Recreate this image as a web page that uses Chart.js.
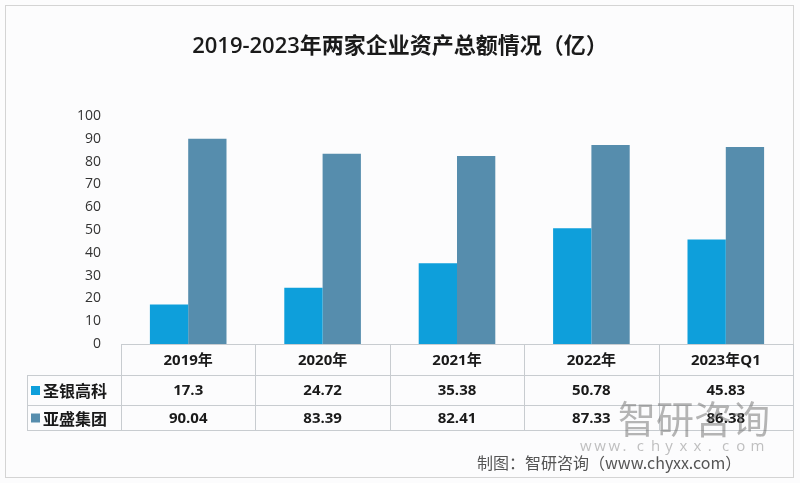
<!DOCTYPE html>
<html>
<head>
<meta charset="utf-8">
<script src="https://cdn.jsdelivr.net/npm/chart.js@4"></script>
<style>
  html, body { margin: 0; padding: 0; background: #ffffff; }
  #wrap { width: 800px; height: 483px; }
</style>
</head>
<body>
<div id="wrap"><canvas id="chart" width="800" height="483"></canvas></div>
<script>
// ===== Dados =====
const anos = ['2019年', '2020年', '2021年', '2022年', '2023年Q1'];
const shengyin = [17.3, 24.72, 35.38, 50.78, 45.83];
const yasheng = [90.04, 83.39, 82.41, 87.33, 86.38];
const serieNomes = ['圣银高科', '亚盛集团'];
const titulo = '2019-2023年两家企业资产总额情况（亿）';
const fonte = '制图：智研咨询（www.chyxx.com）';

const corClara = '#0e9fdb';
const corEscura = '#568dad';
const FONT = '"Open Sans", "Noto Sans CJK SC", sans-serif';

// ===== Plugin: título, tabela de dados e moldura =====
const tabelaPlugin = {
  id: 'tabela',
  beforeDraw(chart) {
    const ctx = chart.ctx;
    ctx.save();
    ctx.fillStyle = '#fcfcfd';
    ctx.fillRect(0, 0, chart.width, chart.height);
    ctx.strokeStyle = '#d4d4d4';
    ctx.lineWidth = 1;
    ctx.strokeRect(5.5, 5.5, 788, 472);
    ctx.restore();
  },
  afterDraw(chart) {
    const ctx = chart.ctx;
    const x = chart.scales.x;
    const area = chart.chartArea;
    const top = area.bottom;
    const rows = [top, top + 31, top + 61, top + 86];
    const legendLeft = 27;
    const step = (area.right - area.left) / anos.length;

    ctx.save();
    // título
    ctx.fillStyle = '#1a1a1a';
    ctx.font = '600 22px ' + FONT;
    ctx.textAlign = 'center';
    ctx.textBaseline = 'middle';
    ctx.fillText(titulo, 400, 47);

    // linhas da tabela
    ctx.strokeStyle = '#c8ccd0';
    ctx.lineWidth = 1;
    ctx.beginPath();
    ctx.moveTo(area.left, rows[0] + 0.5); ctx.lineTo(area.right, rows[0] + 0.5);
    for (let i = 1; i < rows.length; i++) {
      ctx.moveTo(legendLeft, rows[i] + 0.5); ctx.lineTo(area.right, rows[i] + 0.5);
    }
    ctx.moveTo(legendLeft + 0.5, rows[1]); ctx.lineTo(legendLeft + 0.5, rows[3]);
    for (let i = 0; i <= anos.length; i++) {
      const vx = Math.round(area.left + i * step) + 0.5;
      ctx.moveTo(vx, rows[0]); ctx.lineTo(vx, rows[3]);
    }
    ctx.stroke();

    // cabeçalho
    ctx.fillStyle = '#1a1a1a';
    ctx.font = 'bold 15px ' + FONT;
    anos.forEach((a, i) => {
      ctx.fillText(a, x.getPixelForValue(i), (rows[0] + rows[1]) / 2 + 1);
    });

    // linhas de valores
    const series = [shengyin, yasheng];
    const cores = [corClara, corEscura];
    series.forEach((s, r) => {
      const cy = (rows[r + 1] + rows[r + 2]) / 2 + 1;
      s.forEach((v, i) => {
        ctx.fillText(String(v), x.getPixelForValue(i), cy);
      });
      ctx.fillStyle = cores[r];
      ctx.fillRect(31, cy - 5, 9, 9);
      ctx.fillStyle = '#1a1a1a';
      ctx.textAlign = 'left';
      ctx.font = 'bold 16px "Noto Sans CJK SC", sans-serif';
      ctx.fillText(serieNomes[r], 43, cy);
      ctx.textAlign = 'center';
      ctx.font = 'bold 15px ' + FONT;
    });

    // marca d'água
    ctx.fillStyle = 'rgba(120,120,120,0.55)';
    ctx.font = '38px "Noto Sans CJK SC", sans-serif';
    ctx.textAlign = 'left';
    ctx.fillText('智研咨询', 618, 419);
    ctx.font = '15px ' + FONT;
    ctx.fillStyle = 'rgba(140,140,140,0.55)';
    'www.chyxx.com'.split('').forEach((c, i) => ctx.fillText(c, 580 + i * 14.2, 447));

    // fonte
    ctx.fillStyle = '#555555';
    ctx.font = '16px "Noto Sans CJK SC", sans-serif';
    ctx.textAlign = 'left';
    ctx.fillText(fonte, 477, 463);
    ctx.restore();
  }
};

new Chart(document.getElementById('chart'), {
  type: 'bar',
  data: {
    labels: anos,
    datasets: [
      { label: serieNomes[0], data: shengyin, backgroundColor: corClara },
      { label: serieNomes[1], data: yasheng, backgroundColor: corEscura }
    ]
  },
  options: {
    responsive: false,
    animation: false,
    layout: { padding: { top: 116, bottom: 139, left: 0, right: 7 } },
    plugins: {
      legend: { display: false },
      title: { display: false },
      tooltip: { enabled: false }
    },
    datasets: { bar: { categoryPercentage: 0.57, barPercentage: 1.0 } },
    scales: {
      x: { display: false },
      y: {
        min: 0,
        max: 100,
        ticks: { stepSize: 10, padding: 12, color: '#333333', font: { family: FONT, size: 14 } },
        grid: { display: false },
        border: { display: false },
        afterFit: s => { s.width = 121; }
      }
    }
  },
  plugins: [tabelaPlugin]
});
</script>
</body>
</html>
